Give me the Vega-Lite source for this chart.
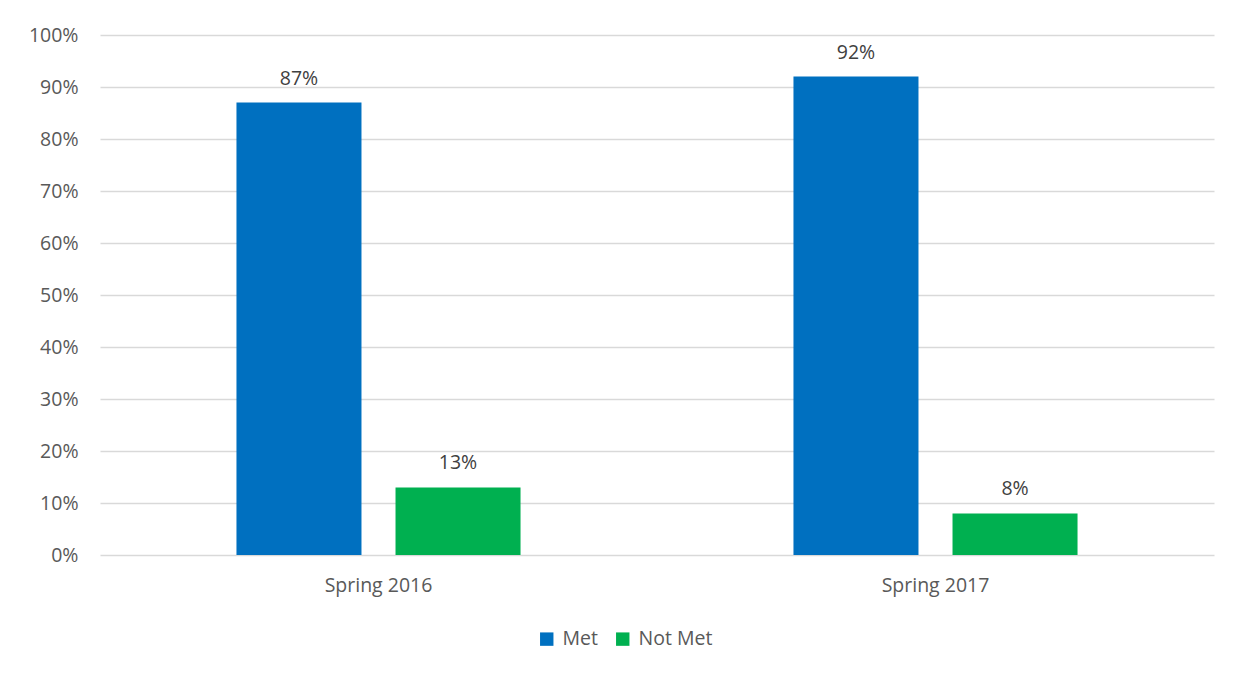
{
  "$schema": "https://vega.github.io/schema/vega-lite/v6.json",
  "width": 1114,
  "height": 520,
  "autosize": {"type": "none"},
  "padding": {"left": 100, "top": 35, "right": 30, "bottom": 120},
  "background": "white",
  "config": {
    "view": {"stroke": null},
    "font": "Open Sans",
    "axis": {"labelFont": "Open Sans", "labelColor": "#595959", "labelFontSize": 19.5},
    "legend": {"labelFont": "Open Sans", "labelColor": "#595959", "labelFontSize": 19.5}
  },
  "data": {
    "values": [
      {"term": "Spring 2016", "status": "Met", "value": 0.87},
      {"term": "Spring 2016", "status": "Not Met", "value": 0.13},
      {"term": "Spring 2017", "status": "Met", "value": 0.92},
      {"term": "Spring 2017", "status": "Not Met", "value": 0.08}
    ]
  },
  "encoding": {
    "x": {
      "field": "term", "type": "nominal",
      "scale": {"paddingInner": 0, "paddingOuter": 0},
      "axis": {"title": null, "labelAngle": 0, "ticks": false, "domain": false, "labelPadding": 21}
    },
    "xOffset": {
      "field": "status", "type": "nominal",
      "scale": {"paddingInner": 0.214, "paddingOuter": 0.858}
    },
    "y": {
      "field": "value", "type": "quantitative",
      "scale": {"domain": [0, 1]},
      "axis": {"title": null, "format": "%", "values": [0, 0.1, 0.2, 0.3, 0.4, 0.5, 0.6, 0.7, 0.8, 0.9, 1.0], "ticks": false, "domain": false, "gridColor": "#d9d9d9", "gridWidth": 1.5, "labelPadding": 22}
    }
  },
  "layer": [
    {
      "mark": {"type": "bar"},
      "encoding": {
        "color": {
          "field": "status", "type": "nominal",
          "scale": {"domain": ["Met", "Not Met"], "range": ["#0070C0", "#00B050"]},
          "legend": {"title": null, "orient": "none", "direction": "horizontal", "legendX": 437, "legendY": 594, "symbolType": "square", "symbolSize": 180, "symbolStrokeWidth": 0, "columnPadding": 15, "labelOffset": 6}
        }
      }
    },
    {
      "mark": {"type": "text", "baseline": "bottom", "dy": -14, "fontSize": 19.5, "color": "#404040"},
      "encoding": {
        "text": {"field": "value", "type": "quantitative", "format": ".0%"}
      }
    }
  ]
}
